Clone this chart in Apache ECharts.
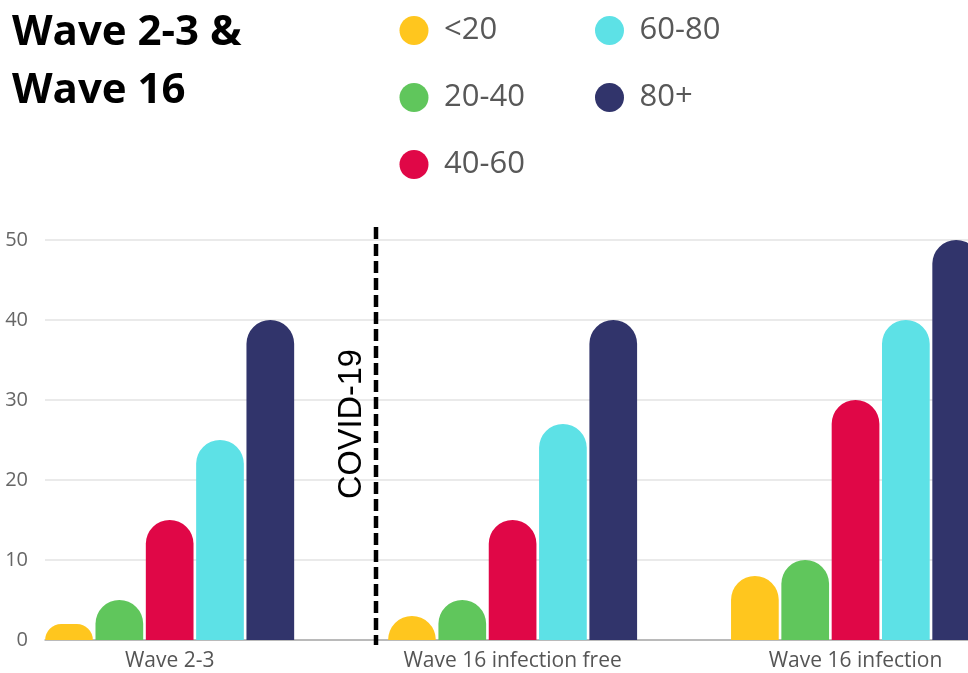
<!DOCTYPE html>
<html>
<head>
<meta charset="utf-8">
<script src="https://cdn.jsdelivr.net/npm/echarts@6/dist/echarts.min.js"></script>
<style>
  html, body { margin: 0; padding: 0; background: #fff; }
  #main { width: 968px; height: 673px; }
</style>
</head>
<body>
<div id="main"></div>
<script>
  const categories = ['Wave 2-3', 'Wave 16 infection free', 'Wave 16 infection'];
  const ageGroups = ['<20', '20-40', '40-60', '60-80', '80+'];
  const colors = ['#FFC61E', '#60C65C', '#E00747', '#5DE1E6', '#31346B'];
  const under20 = [2, 3, 8];
  const age20to40 = [5, 5, 10];
  const age40to60 = [15, 15, 30];
  const age60to80 = [25, 27, 40];
  const over80 = [40, 40, 50];
  const yTicks = [0, 10, 20, 30, 40, 50];

  const myChart = echarts.init(document.getElementById('main'));
  const values = [under20, age20to40, age40to60, age60to80, over80];

  const seriesData = ageGroups.map(function (name, i) {
    return {
      name: name,
      type: 'bar',
      xAxisIndex: 1,
      yAxisIndex: 1,
      barWidth: 47.7,
      barGap: '5.5%',
      itemStyle: {
        color: colors[i],
        borderRadius: [24, 24, 0, 0]
      },
      data: values[i]
    };
  });

  const legendText = {
    fontFamily: 'Open Sans',
    fontSize: 31,
    color: '#585858'
  };

  const option = {
    animation: false,
    title: {
      text: 'Wave 2-3 &\nWave 16',
      left: 12,
      top: 4,
      padding: 0,
      textStyle: {
        fontFamily: 'Open Sans',
        fontWeight: 'bold',
        fontSize: 42,
        lineHeight: 58,
        color: '#000'
      }
    },
    legend: [{
      orient: 'vertical',
      left: 399.5,
      top: 15,
      padding: 0,
      icon: 'circle',
      itemWidth: 50,
      itemHeight: 29,
      itemGap: 36,
      textStyle: legendText,
      data: ['<20', '20-40', '40-60']
    }, {
      orient: 'vertical',
      left: 595,
      top: 15,
      padding: 0,
      icon: 'circle',
      itemWidth: 50,
      itemHeight: 29,
      itemGap: 36,
      textStyle: legendText,
      data: ['60-80', '80+']
    }],
    grid: [
      { left: 45, right: 0, top: 240, bottom: 33, outerBoundsMode: 'none' },
      { left: -1.8, right: -59, top: 240, bottom: 33, outerBoundsMode: 'none' }
    ],
    xAxis: [{
      type: 'category',
      gridIndex: 0,
      data: categories,
      axisTick: { show: false },
      axisLabel: { show: false },
      axisLine: { lineStyle: { color: '#aaa', width: 1.5 } }
    }, {
      type: 'category',
      gridIndex: 1,
      data: categories,
      axisTick: { show: false },
      axisLine: { show: false },
      axisLabel: {
        margin: 11,
        fontFamily: 'Open Sans',
        fontSize: 21,
        color: '#555'
      }
    }],
    yAxis: [{
      type: 'value',
      gridIndex: 0,
      min: yTicks[0],
      max: yTicks[yTicks.length - 1],
      interval: 10,
      axisLabel: {
        margin: 17,
        fontFamily: 'Open Sans',
        fontSize: 20,
        color: '#666'
      },
      splitLine: { lineStyle: { color: '#e3e3e3', width: 1.5 } }
    }, {
      type: 'value',
      gridIndex: 1,
      min: yTicks[0],
      max: yTicks[yTicks.length - 1],
      interval: 10,
      show: false,
      splitLine: { show: false }
    }],
    graphic: [{
      type: 'line',
      shape: { x1: 376, y1: 227, x2: 376, y2: 645 },
      style: { stroke: '#000', lineWidth: 4.5, lineDash: [12, 5] },
      z: 10
    }, {
      type: 'text',
      x: 352,
      y: 424,
      rotation: Math.PI / 2,
      style: {
        text: 'COVID-19',
        fontFamily: 'Liberation Sans',
        fontSize: 32.5,
        fill: '#000',
        align: 'center',
        verticalAlign: 'middle'
      },
      z: 10
    }],
    series: seriesData
  };

  myChart.setOption(option);
</script>
</body>
</html>
